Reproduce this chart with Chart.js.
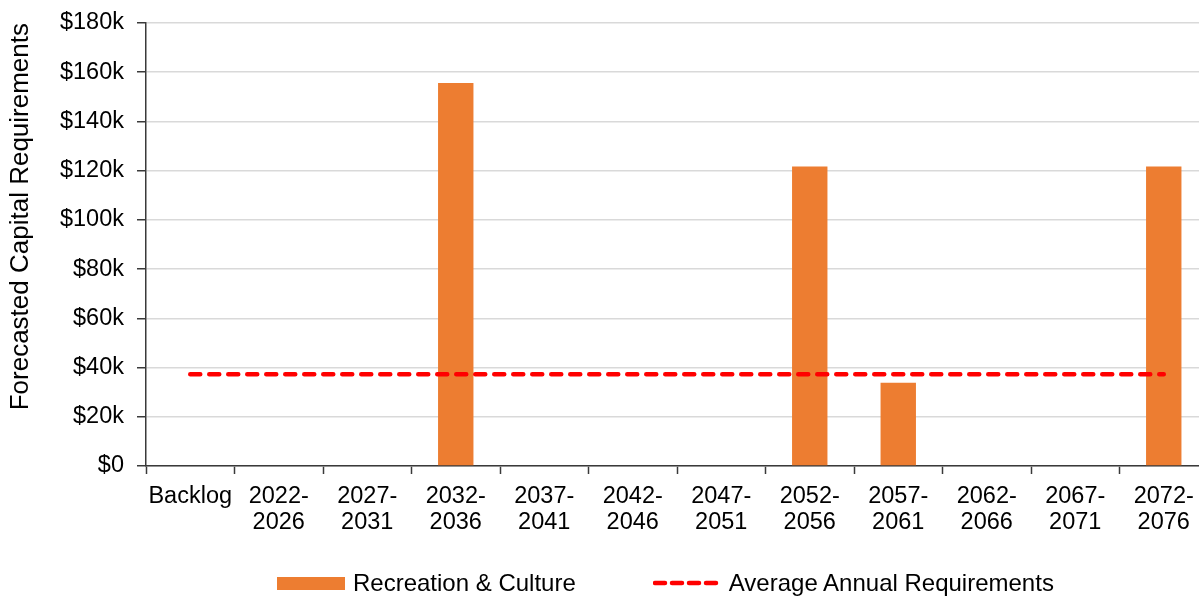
<!DOCTYPE html>
<html>
<head>
<meta charset="utf-8">
<title>Forecasted Capital Requirements</title>
<script src="https://cdn.jsdelivr.net/npm/chart.js@4/dist/chart.umd.min.js"></script>
<style>
  html, body { margin: 0; padding: 0; background: #ffffff; overflow: hidden; }
  #wrap { position: relative; width: 1208px; height: 597px; }
  #chart { display: block; }
  #legend {
    position: absolute; left: 277px; top: 570px;
    display: flex; align-items: center; gap: 77px;
    font-family: "Liberation Sans", Arial, sans-serif; font-size: 24px; color: #000;
    line-height: 26px; white-space: nowrap;
  }
  #legend .item { display: flex; align-items: center; gap: 8px; }
  #legend svg { display: block; }
</style>
</head>
<body>
<div id="wrap">
  <canvas id="chart" width="1208" height="597"></canvas>
  <div id="legend"></div>
</div>
<script>
// Five-year periods on the category axis
const periods = [
  'Backlog', ['2022-', '2026'], ['2027-', '2031'], ['2032-', '2036'], ['2037-', '2041'],
  ['2042-', '2046'], ['2047-', '2051'], ['2052-', '2056'], ['2057-', '2061'],
  ['2062-', '2066'], ['2067-', '2071'], ['2072-', '2076']
];

// Forecasted capital requirements per period ($)
const recreationCulture = [0, 0, 0, 155600, 0, 0, 0, 121700, 33800, 0, 0, 121700];

// Average annual requirement, shown as a flat reference line ($)
const averageAnnual = [37300, 37300, 37300, 37300, 37300, 37300, 37300, 37300, 37300, 37300, 37300, 37300];

// Value axis ticks
const yTickValues = [0, 20000, 40000, 60000, 80000, 100000, 120000, 140000, 160000, 180000];

const seriesNames = ['Recreation & Culture', 'Average Annual Requirements'];
const axisTitle = 'Forecasted Capital Requirements';

const FONT = '"Liberation Sans", Arial, sans-serif';
const ORANGE = '#ED7D31';
const RED = '#FF0000';
const AXIS = '#3a3a3a';

const chart = new Chart(document.getElementById('chart'), {
  data: {
    labels: periods,
    datasets: [
      {
        type: 'line',
        label: seriesNames[1],
        data: averageAnnual,
        borderColor: RED,
        borderWidth: 4.5,
        borderDash: [10, 9],
        borderCapStyle: 'round',
        pointRadius: 0,
        fill: false,
        order: 0
      },
      {
        type: 'bar',
        label: seriesNames[0],
        data: recreationCulture,
        backgroundColor: ORANGE,
        borderWidth: 0,
        categoryPercentage: 1.0,
        barPercentage: 0.4,
        order: 1
      }
    ]
  },
  options: {
    responsive: false,
    animation: false,
    layout: { padding: { top: 23, left: 0, right: 0, bottom: 0 } },
    plugins: {
      legend: { display: false },
      tooltip: { enabled: false }
    },
    scales: {
      x: {
        offset: true,
        grid: {
          offset: true,
          drawOnChartArea: false,
          drawTicks: true,
          tickLength: 8,
          tickColor: AXIS,
          tickWidth: 1.5
        },
        border: { color: AXIS, width: 1.5 },
        ticks: {
          color: '#000',
          padding: 9,
          maxRotation: 0,
          autoSkip: false,
          font: { family: FONT, size: 23.5, lineHeight: 1.12 }
        },
        afterFit: (scale) => { scale.height = 131; }
      },
      y: {
        min: 0,
        max: 180000,
        afterBuildTicks: (scale) => { scale.ticks = yTickValues.map(v => ({ value: v })); },
        grid: {
          color: '#d9d9d9',
          lineWidth: 1.5,
          drawTicks: true,
          tickLength: 9,
          tickColor: AXIS,
          tickWidth: 1.5
        },
        border: { color: AXIS, width: 1.5 },
        ticks: {
          color: '#000',
          padding: 13,
          font: { family: FONT, size: 23.5 },
          callback: (v) => (v === 0 ? '$0' : '$' + (v / 1000) + 'k')
        },
        title: {
          display: true,
          text: axisTitle,
          align: 'end',
          color: '#000',
          padding: { top: 5, bottom: 0 },
          font: { family: FONT, size: 26, lineHeight: 1.2 }
        },
        afterFit: (scale) => {
          scale.width = 146;
          // the top label fits inside the layout padding
          scale.paddingTop = 0;
          scale.paddingBottom = 0;
        }
      }
    }
  }
});

// Legend built from the datasets: bar swatch first, then the dashed line
(function buildLegend() {
  const legend = document.getElementById('legend');
  const bar = chart.data.datasets.find(d => d.type === 'bar');
  const line = chart.data.datasets.find(d => d.type === 'line');
  const ns = 'http://www.w3.org/2000/svg';

  function item(swatch, text) {
    const el = document.createElement('div');
    el.className = 'item';
    el.appendChild(swatch);
    const span = document.createElement('span');
    span.textContent = text;
    el.appendChild(span);
    legend.appendChild(el);
  }

  const s1 = document.createElementNS(ns, 'svg');
  s1.setAttribute('width', '68'); s1.setAttribute('height', '14');
  const r = document.createElementNS(ns, 'rect');
  r.setAttribute('x', '0'); r.setAttribute('y', '1');
  r.setAttribute('width', '68'); r.setAttribute('height', '13');
  r.setAttribute('fill', bar.backgroundColor);
  s1.appendChild(r);
  item(s1, bar.label);

  const s2 = document.createElementNS(ns, 'svg');
  s2.setAttribute('width', '68'); s2.setAttribute('height', '14');
  const l = document.createElementNS(ns, 'line');
  l.setAttribute('x1', '2'); l.setAttribute('x2', '66');
  l.setAttribute('y1', '7'); l.setAttribute('y2', '7');
  l.setAttribute('stroke', line.borderColor);
  l.setAttribute('stroke-width', '4.5');
  l.setAttribute('stroke-dasharray', '10 7');
  l.setAttribute('stroke-linecap', 'round');
  s2.appendChild(l);
  item(s2, line.label);
})();
</script>
</body>
</html>
